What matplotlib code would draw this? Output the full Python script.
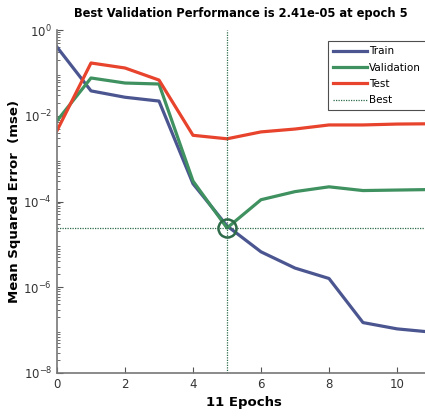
import matplotlib
matplotlib.use("Agg")
import matplotlib.pyplot as plt
import numpy as np

# per-epoch mean squared error
epochs = np.arange(0, 12)
train = [0.40, 0.038, 0.027, 0.022, 2.6e-4, 2.7e-5, 6.7e-6, 2.8e-6, 1.6e-6, 1.5e-7, 1.07e-7, 9e-8]
validation = [7.6e-3, 0.076, 0.058, 0.055, 3.0e-4, 2.41e-5, 1.1e-4, 1.7e-4, 2.2e-4, 1.8e-4, 1.85e-4, 1.9e-4]
test = [4.5e-3, 0.17, 0.13, 0.068, 3.5e-3, 2.9e-3, 4.2e-3, 4.9e-3, 6.1e-3, 6.1e-3, 6.4e-3, 6.5e-3]
best_epoch = 5
best_perf = 2.41e-05

_C = {"train": "#4b5590", "validation": "#3f9160", "test": "#e8432c", "best": "#2e6b48"}

fig = plt.figure(figsize=(4.25, 4.2), dpi=100)
# axes run to epoch 11, a little past the right edge of the picture (as in the reference)
ax = fig.add_axes([57 / 425, 47 / 420, 374 / 425, 343 / 420])

ax.plot(epochs, train, color=_C["train"], lw=2.3, label="Train")
ax.plot(epochs, validation, color=_C["validation"], lw=2.3, label="Validation")
ax.plot(epochs, test, color=_C["test"], lw=2.3, label="Test")
ax.axvline(best_epoch, color=_C["best"], lw=0.9, ls=(0, (1, 1)), label="Best")
ax.axhline(best_perf, color=_C["best"], lw=0.9, ls=(0, (1, 1)))
ax.plot([best_epoch], [best_perf], "o", ms=13, mfc="none", mec=_C["best"], mew=1.8)

ax.set_yscale("log")
ax.set_ylim(1e-8, 1)
ax.set_xlim(0, 11)
ax.set_yticks([1e0, 1e-2, 1e-4, 1e-6, 1e-8])
ax.set_xticks([0, 2, 4, 6, 8, 10])
ax.tick_params(which="both", direction="in", colors="#555555", labelcolor="#333333", labelsize=8.5)
ax.tick_params(which="major", length=4)
ax.tick_params(which="minor", length=2)
for s in ("top", "right"):
    ax.spines[s].set_visible(False)
for s in ("left", "bottom"):
    ax.spines[s].set_color("#777777")
    ax.spines[s].set_linewidth(1.2)

fig.text(241 / 425, 1 - 14 / 420, "Best Validation Performance is 2.41e-05 at epoch 5",
         ha="center", va="center", fontsize=8.3, fontweight="bold")
ax.set_xlabel("11 Epochs", fontsize=9.5, fontweight="bold", labelpad=4)
ax.set_ylabel("Mean Squared Error  (mse)", fontsize=9.5, fontweight="bold", labelpad=2)

leg = ax.legend(loc="upper left", bbox_to_anchor=(323 / 425, 1 - 36 / 420),
                bbox_transform=fig.transFigure, fontsize=7.5, frameon=True,
                fancybox=False, borderpad=0.5, labelspacing=0.6,
                handlelength=3.2, handletextpad=0.2)
leg.get_frame().set_edgecolor("#222222")
leg.get_frame().set_linewidth(0.8)

fig.savefig("out.png", dpi=100)
